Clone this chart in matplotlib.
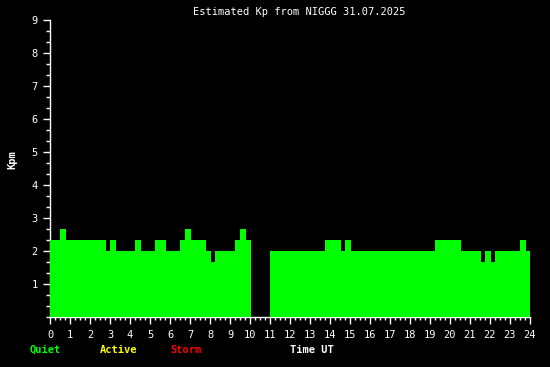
import numpy as np
import matplotlib
matplotlib.use('Agg')
import matplotlib.pyplot as plt
from matplotlib.ticker import MultipleLocator

# step edges (hours UT) and estimated Kp in each interval, nan = no data
edges = [0, 0.5, 0.8, 2.8, 3.0, 3.3, 4.25, 4.55, 5.25, 5.8,
         6.5, 6.75, 7.05, 7.8, 8.05, 8.25, 9.25, 9.5, 9.8, 10.05,
         11.0, 13.75, 14.55, 14.75, 15.05, 19.25, 20.55, 21.55, 21.75, 22.05,
         22.25, 23.5, 23.8, 24.0]
kp = [2.33, 2.67, 2.33, 2.0, 2.33, 2.0, 2.33, 2.0, 2.33, 2.0,
      2.33, 2.67, 2.33, 2.0, 1.67, 2.0, 2.33, 2.67, 2.33, np.nan,
      2.0, 2.33, 2.0, 2.33, 2.0, 2.33, 2.0, 1.67, 2.0, 1.67,
      2.0, 2.33, 2.0]
hours = list(range(0, 25))
title = 'Estimated Kp from NIGGG 31.07.2025'

plt.rcParams['font.family'] = ['DejaVu Sans Mono']

fig = plt.figure(figsize=(5.5, 3.67), dpi=100, facecolor='black')
ax = fig.add_axes([50/550, 1 - 317/367, 480/550, 297/367])
ax.set_facecolor('black')

left = np.array(edges[:-1])
width = np.diff(edges)
ax.bar(left, kp, width=width, align='edge', color='#00ff00', linewidth=0, zorder=3, antialiased=False)

ax.set_xlim(0, 24)
ax.set_ylim(0, 9)
ax.set_xticks(hours)
ax.set_xticklabels([str(h) for h in hours])
ax.xaxis.set_minor_locator(MultipleLocator(0.25))
ax.set_yticks(range(1, 10))
ax.yaxis.set_minor_locator(MultipleLocator(1/3))

for s in ['top', 'right']:
    ax.spines[s].set_visible(False)
for s in ['left', 'bottom']:
    ax.spines[s].set_color('white')
    ax.spines[s].set_linewidth(1)
    ax.spines[s].set_zorder(1)

ax.tick_params(which='major', colors='white', length=5, width=1, labelsize=7.5, pad=4)
ax.tick_params(which='minor', colors='white', length=3, width=1)
ax.tick_params(axis='x', which='minor', length=2.5)

fig.text(299/550, 1 - 12/367, title, color='white', fontsize=7.5, ha='center', va='center')
fig.text(12/550, 1 - 160/367, 'Kpm', color='white', fontsize=7.5, fontweight='bold',
         rotation=90, ha='center', va='center')
fig.text(30/550, 1 - 350/367, 'Quiet', color='#00ff00', fontsize=7.5, fontweight='bold', va='center')
fig.text(100/550, 1 - 350/367, 'Active', color='#ffff00', fontsize=7.5, fontweight='bold', va='center')
fig.text(170/550, 1 - 350/367, 'Storm', color='#ff0000', fontsize=7.5, fontweight='bold', va='center')
fig.text(290/550, 1 - 350/367, 'Time UT', color='white', fontsize=7.5, fontweight='bold', va='center')

fig.savefig('out.png', dpi=100, facecolor='black')
